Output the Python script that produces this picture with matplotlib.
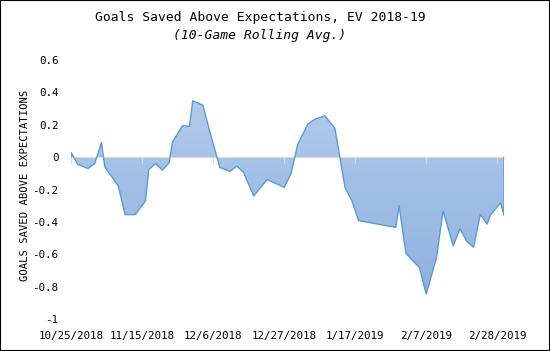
import numpy as np
import pandas as pd
import matplotlib
matplotlib.use("Agg")
import matplotlib.pyplot as plt
import matplotlib.dates as mdates
from matplotlib.colors import LinearSegmentedColormap
from matplotlib.patches import Rectangle

# days since 10/25/2018 and 10-game rolling GSAx
day_offsets = [0, 2, 5, 7, 9, 10, 14, 16, 19, 22, 23, 25, 27, 29, 30, 33, 35, 36,
               39, 41, 44, 47, 49, 51, 54, 58, 63, 65, 67, 70, 72, 75, 78, 81, 83,
               85, 96, 97, 99, 103, 105, 108, 110, 113, 115, 117, 119, 121, 123,
               124, 127, 128]
gsax = [0.03, -0.045, -0.07, -0.04, 0.09, -0.06, -0.18, -0.355, -0.355, -0.27,
        -0.076, -0.04, -0.08, -0.035, 0.093, 0.195, 0.19, 0.348, 0.32, 0.16,
        -0.064, -0.088, -0.056, -0.094, -0.24, -0.138, -0.187, -0.105, 0.078,
        0.204, 0.233, 0.255, 0.18, -0.188, -0.267, -0.392, -0.434, -0.30, -0.595,
        -0.683, -0.846, -0.625, -0.333, -0.548, -0.443, -0.52, -0.557, -0.354,
        -0.414, -0.358, -0.282, -0.36]

start = pd.Timestamp("2018-10-25")
dates = [start + pd.Timedelta(days=d) for d in day_offsets]
tick_dates = [start + pd.Timedelta(days=21 * k) for k in range(7)]
y_ticks = [0.6, 0.4, 0.2, 0, -0.2, -0.4, -0.6, -0.8, -1]

mono = "DejaVu Sans Mono"
line_col = "#5b9bd5"

fig = plt.figure(figsize=(5.5, 3.51), dpi=100)
ax = fig.add_axes([71 / 550, 32 / 351, 433 / 550, 259 / 351])

x = mdates.date2num(dates)
y = np.array(gsax)

# gradient fill clipped to the area polygon
poly = ax.fill_between(x, y, 0, facecolor="none", edgecolor="none")
cmap = LinearSegmentedColormap.from_list("grad", ["#b0cbeb", "#8fb1e0"])
grad = np.linspace(0, 1, 256).reshape(-1, 1)
img = ax.imshow(grad, cmap=cmap, aspect="auto", origin="upper",
                extent=[x[0], x[-1], y.min(), y.max()], zorder=1)
img.set_clip_path(poly.get_paths()[0], transform=ax.transData)

# outline on top edge plus end verticals
ax.plot(np.r_[x[0], x, x[-1]], np.r_[0, y, 0], color=line_col, lw=1.0, zorder=3)

ax.set_xlim(x[0], x[-1])
ax.set_ylim(-1, 0.6)

for s in ["top", "right", "left"]:
    ax.spines[s].set_visible(False)
ax.spines["bottom"].set_position(("data", 0))
ax.spines["bottom"].set_color("#d9d9d9")
ax.spines["bottom"].set_zorder(2)
ax.set_xticks(mdates.date2num(tick_dates))
ax.tick_params(axis="x", direction="out", length=4, color="#d9d9d9",
               labelbottom=False)

sec = ax.secondary_xaxis("bottom")
sec.spines["bottom"].set_visible(False)
sec.set_xticks(mdates.date2num(tick_dates))
sec.set_xticklabels([f"{d.month}/{d.day}/{d.year}" for d in tick_dates],
                    family=mono, fontsize=7.8)
sec.tick_params(length=0, pad=9)

ax.set_yticks(y_ticks)
ax.set_yticklabels([f"{v:g}" for v in y_ticks], family=mono, fontsize=7.8)
ax.tick_params(axis="y", length=0, pad=9)

fig.text(25 / 550, 1 - 185 / 351, "GOALS SAVED ABOVE EXPECTATIONS", rotation=90,
         ha="center", va="center", family=mono, fontsize=7.6)

fig.text(0.5 * (97 + 423) / 550, 1 - 18 / 351,
         "Goals Saved Above Expectations, EV 2018-19",
         ha="center", va="center", family=mono, fontsize=9.4)
fig.text(0.5 * (175 + 344) / 550, 1 - 36 / 351, "(10-Game Rolling Avg.)",
         ha="center", va="center", family=mono, style="italic", fontsize=9.4)

fig.patches.append(Rectangle((0, 0), 1, 1, transform=fig.transFigure,
                             fill=False, edgecolor="black", lw=1.5))

fig.savefig("out.png", dpi=100)
